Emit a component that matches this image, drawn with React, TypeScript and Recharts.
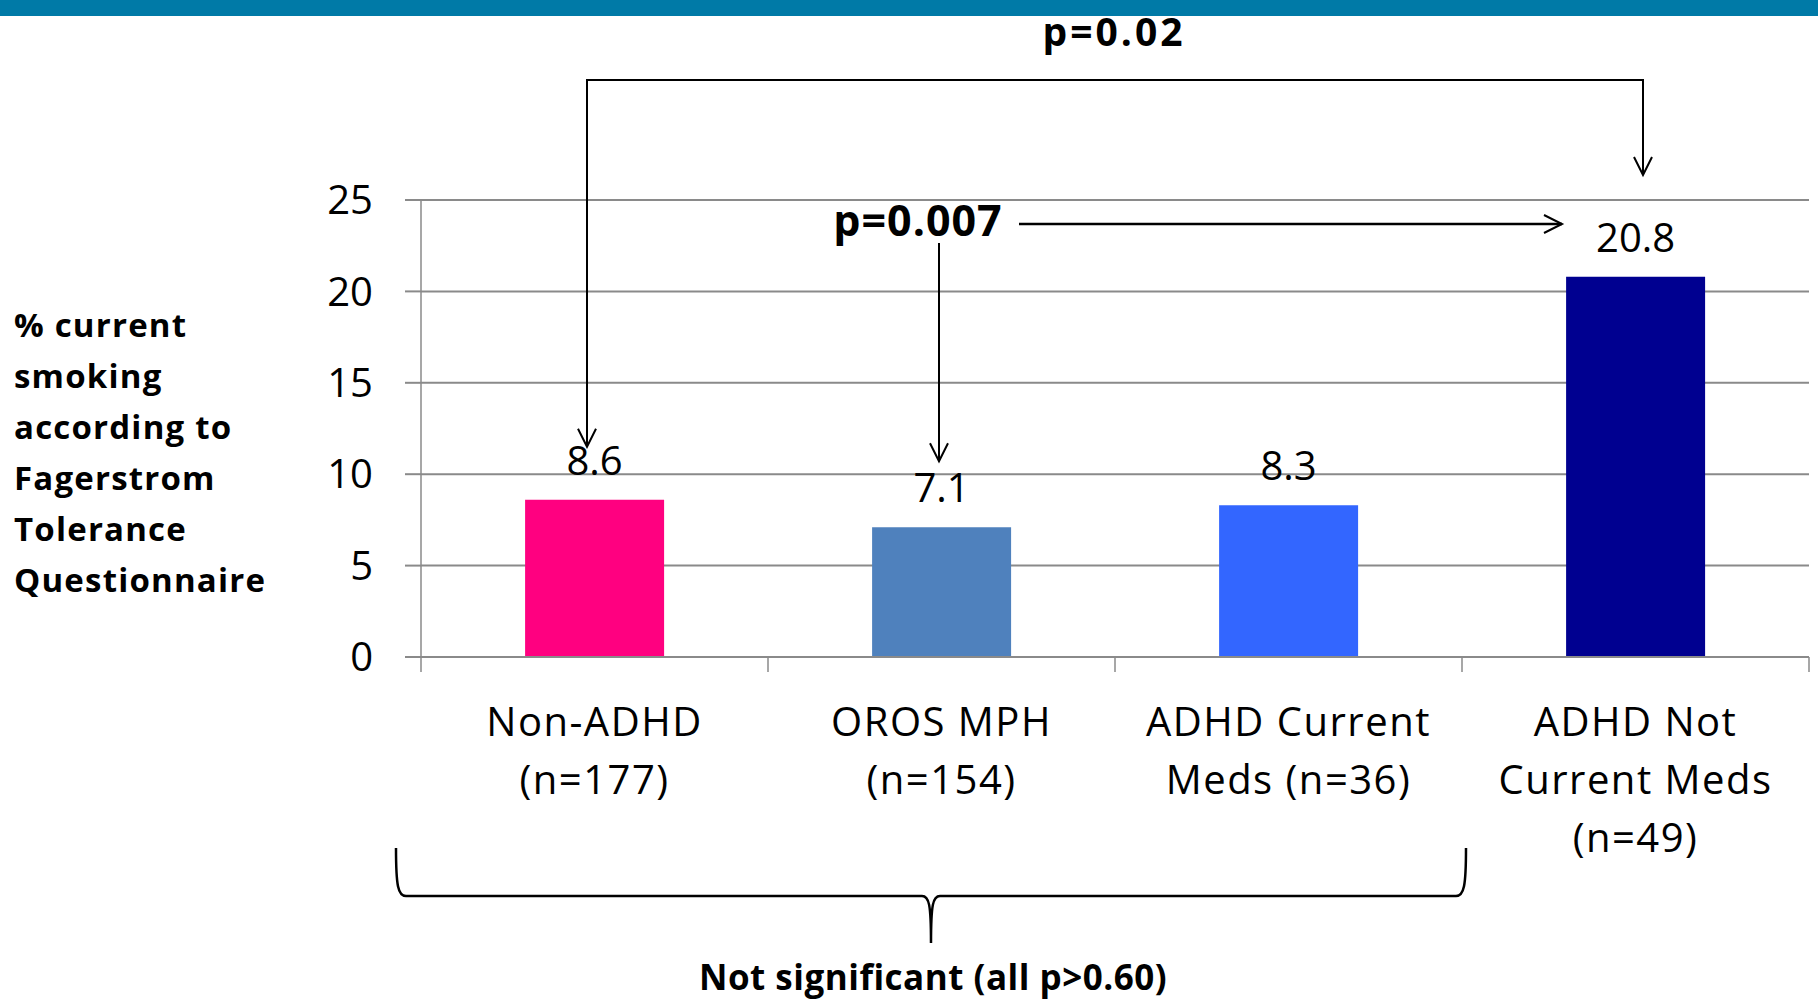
import { Bar, BarChart, CartesianGrid, Cell, LabelList, XAxis, YAxis } from "recharts";

const categoryLines = [
  ["Non-ADHD", "(n=177)"],
  ["OROS MPH", "(n=154)"],
  ["ADHD Current", "Meds (n=36)"],
  ["ADHD Not", "Current Meds", "(n=49)"],
];
const smokingPct = [8.6, 7.1, 8.3, 20.8];
const barColors = ["#FF0080", "#4F81BD", "#3366FF", "#000090"];
const yTicks = [0, 5, 10, 15, 20, 25];
const yTitleLines = [
  "% current",
  "smoking",
  "according to",
  "Fagerstrom",
  "Tolerance",
  "Questionnaire",
];

const data = categoryLines.map((lines, i) => ({
  name: lines.join(" "),
  value: smokingPct[i],
}));

const W = 1818;
const H = 999;
const TOP = 200;
const BOTTOM = 657;
const LEFT = 421;
const RIGHT = 1809;
const Y_MAX = 25;
const BAND = (RIGHT - LEFT) / data.length;
const LABEL_OFFSET = 25;

const FONT = "'Open Sans', Calibri, sans-serif";
const GRID = "#8a8a8a";

// layout helpers for the annotation layer, same frame as the chart's plot area
const xc = (i: number) => LEFT + (i + 0.5) * BAND;
const yv = (v: number) => BOTTOM - (v / Y_MAX) * (BOTTOM - TOP);

function CategoryTick(props: any) {
  const { x, index } = props;
  const lines = categoryLines[index] ?? [];
  const last = index === categoryLines.length - 1;
  return (
    <g>
      <line x1={x - BAND / 2} x2={x - BAND / 2} y1={BOTTOM} y2={BOTTOM + 15} stroke={GRID} strokeWidth={1.5} />
      {last && (
        <line x1={x + BAND / 2} x2={x + BAND / 2} y1={BOTTOM} y2={BOTTOM + 15} stroke={GRID} strokeWidth={1.5} />
      )}
      <text x={x} y={BOTTOM + 79} textAnchor="middle" fontSize={40} fill="#000" style={{ fontFamily: FONT, letterSpacing: 1.5 }}>
        {lines.map((l, k) => (
          <tspan key={k} x={x} dy={k === 0 ? 0 : 58}>
            {l}
          </tspan>
        ))}
      </text>
    </g>
  );
}

function ArrowHead({ x, y, dir }: { x: number; y: number; dir: "down" | "right" }) {
  const d =
    dir === "down"
      ? `M${x - 9},${y - 18} L${x},${y} L${x + 9},${y - 18}`
      : `M${x - 18},${y - 9} L${x},${y} L${x - 18},${y + 9}`;
  return <path d={d} fill="none" stroke="#000" strokeWidth={2} />;
}

function Annotations() {
  const leftX = xc(0) - 7.5;
  const rightX = xc(3) + 7.5;
  const bracketY = 80;
  const leftTip = yv(smokingPct[0]) - LABEL_OFFSET - 28;
  const rightTip = 175;
  const hY = 224;
  const hStart = 1019;
  const hEnd = xc(3) - 73.5;
  const vX = xc(1) - 2.5;
  const vTip = yv(smokingPct[1]) - LABEL_OFFSET - 41;

  // curly brace under the first three groups
  const bL = LEFT - 25;
  const bR = xc(2) + BAND / 2 + 4;
  const bTop = 848;
  const bMid = 896;
  const bBot = 943;
  const bC = (bL + bR) / 2;
  const brace = [
    `M${bL},${bTop}`,
    `C${bL},${bMid - 10} ${bL + 2},${bMid} ${bL + 10},${bMid}`,
    `L${bC - 9},${bMid}`,
    `C${bC - 2},${bMid} ${bC},${bMid + 8} ${bC},${bBot}`,
    `C${bC},${bMid + 8} ${bC + 2},${bMid} ${bC + 9},${bMid}`,
    `L${bR - 10},${bMid}`,
    `C${bR - 2},${bMid} ${bR},${bMid - 10} ${bR},${bTop}`,
  ].join(" ");

  const bold = { fontFamily: FONT, fontWeight: 700 } as const;

  return (
    <svg width={W} height={H} style={{ position: "absolute", left: 0, top: 0, pointerEvents: "none" }}>
      <rect x={0} y={0} width={W} height={16} fill="#007AA7" />

      <text x={(leftX + rightX) / 2 - 1} y={46} textAnchor="middle" fontSize={39} style={{ ...bold, letterSpacing: 3 }}>
        p=0.02
      </text>
      <path d={`M${leftX},${leftTip} L${leftX},${bracketY} L${rightX},${bracketY} L${rightX},${rightTip}`} fill="none" stroke="#000" strokeWidth={2} />
      <ArrowHead x={leftX} y={leftTip} dir="down" />
      <ArrowHead x={rightX} y={rightTip} dir="down" />

      <text x={918} y={236} textAnchor="middle" fontSize={43} style={{ ...bold, letterSpacing: 1 }}>
        p=0.007
      </text>
      <line x1={hStart} x2={hEnd} y1={hY} y2={hY} stroke="#000" strokeWidth={2.5} />
      <ArrowHead x={hEnd} y={hY} dir="right" />
      <line x1={vX} x2={vX} y1={243} y2={vTip} stroke="#000" strokeWidth={2} />
      <ArrowHead x={vX} y={vTip} dir="down" />

      <path d={brace} fill="none" stroke="#000" strokeWidth={2.5} />
      <text x={bC + 2} y={990} textAnchor="middle" fontSize={35} style={{ ...bold, letterSpacing: 0.5 }}>
        Not significant (all p&gt;0.60)
      </text>

      <text x={14} y={337} fontSize={33} style={{ ...bold, letterSpacing: 1.2 }}>
        {yTitleLines.map((l, k) => (
          <tspan key={k} x={14} dy={k === 0 ? 0 : 51}>
            {l}
          </tspan>
        ))}
      </text>
    </svg>
  );
}

export default function App() {
  return (
    <div style={{ position: "absolute", left: 0, top: 0, width: W, height: H, background: "#fff" }}>
      <BarChart
        width={W}
        height={H}
        data={data}
        margin={{ top: TOP, right: W - RIGHT, bottom: 0, left: 0 }}
        barCategoryGap="30%"
      >
        <CartesianGrid vertical={false} stroke={GRID} strokeWidth={2} />
        <XAxis
          dataKey="name"
          height={H - BOTTOM}
          tickLine={false}
          axisLine={{ stroke: GRID, strokeWidth: 2 }}
          tick={<CategoryTick />}
          interval={0}
        />
        <YAxis
          width={LEFT}
          domain={[0, Y_MAX]}
          ticks={yTicks}
          tickSize={16}
          tickMargin={32}
          axisLine={{ stroke: GRID, strokeWidth: 1.5 }}
          tickLine={{ stroke: GRID, strokeWidth: 2 }}
          tick={{ fontSize: 40, fill: "#000", fontFamily: FONT }}
        />
        <Bar dataKey="value" isAnimationActive={false}>
          {data.map((_, i) => (
            <Cell key={i} fill={barColors[i]} />
          ))}
          <LabelList
            dataKey="value"
            position="top"
            offset={LABEL_OFFSET}
            fill="#000"
            fontSize={40}
            style={{ fontFamily: FONT }}
          />
        </Bar>
      </BarChart>
      <Annotations />
    </div>
  );
}
